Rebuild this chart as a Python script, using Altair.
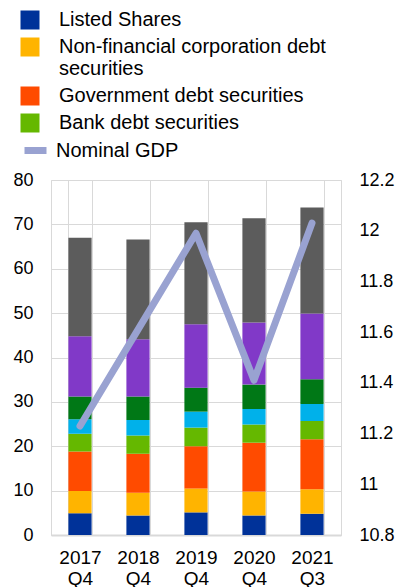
import altair as alt
import pandas as pd

periods = ["2017 Q4", "2018 Q4", "2019 Q4", "2020 Q4", "2021 Q3"]

series_names = [
    "Listed Shares",
    "Non-financial corporation debt securities",
    "Government debt securities",
    "Bank debt securities",
    "Other financial debt securities",
    "Investment fund shares",
    "Unlisted shares",
    "Other equity",
]
legend_names = series_names[:4]
series_colors = ["#003299", "#FFB400", "#FF4B00", "#65B800",
                 "#00B1EA", "#007816", "#8139C8", "#5C5C5C"]

listed_shares = [4.9, 4.4, 5.1, 4.4, 4.8]
nfc_debt = [5.0, 5.1, 5.4, 5.4, 5.5]
gov_debt = [8.9, 8.8, 9.5, 11.0, 11.3]
bank_debt = [4.0, 4.1, 4.2, 4.1, 4.1]
other_fin_debt = [3.3, 3.5, 3.6, 3.5, 3.8]
fund_shares = [5.1, 5.3, 5.4, 5.5, 5.6]
unlisted_shares = [13.6, 12.9, 14.3, 14.0, 14.8]
other_equity = [22.2, 22.5, 23.0, 23.5, 23.9]

nominal_gdp = [11.23, 11.61, 11.99, 11.41, 12.03]

all_series = [listed_shares, nfc_debt, gov_debt, bank_debt,
              other_fin_debt, fund_shares, unlisted_shares, other_equity]

rows = []
for i, (name, vals) in enumerate(zip(series_names, all_series)):
    for p, v in zip(periods, vals):
        rows.append({"period": p, "series": name, "value": v, "order": i})
bars_df = pd.DataFrame(rows)

gdp_df = pd.DataFrame({"period": periods, "gdp": nominal_gdp,
                       "series": ["Nominal GDP"] * len(periods)})

FONT = "Liberation Sans"
GRID = "#d9d9d9"

x_enc = alt.X(
    "period:N", sort=periods,
    scale=alt.Scale(paddingInner=0.6, paddingOuter=0.3),
    axis=alt.Axis(title=None, labelExpr="split(datum.label, ' ')", labelAngle=0,
                  tickBand="extent", grid=True, gridColor=GRID, ticks=False,
                  labelPadding=13, labelLineHeight=21, labelFontSize=19,
                  labelFont=FONT, labelColor="#000000",
                  domainColor=GRID, domainWidth=2),
)

bars = alt.Chart(bars_df).mark_bar().encode(
    x=x_enc,
    y=alt.Y("value:Q", stack="zero",
            scale=alt.Scale(domain=[0, 80]),
            axis=alt.Axis(title=None, values=list(range(0, 81, 10)), grid=True,
                          gridColor=GRID, ticks=False, domain=False,
                          labelPadding=18, labelFontSize=18, labelFont=FONT,
                          labelColor="#000000")),
    color=alt.Color("series:N",
                    scale=alt.Scale(domain=series_names, range=series_colors),
                    legend=alt.Legend(values=legend_names, title=None, orient="none",
                                      legendX=-31, legendY=-170, padding=0,
                                      symbolType="square", symbolSize=361,
                                      symbolStrokeWidth=0, labelFontSize=20,
                                      labelFont=FONT, labelColor="#000000",
                                      labelOffset=19, rowPadding=7,
                                      labelLimit=400,
                                      labelExpr="datum.label == 'Non-financial corporation debt securities' ? ['Non-financial corporation debt', 'securities'] : datum.label")),
    order=alt.Order("order:Q", sort="ascending"),
)

line = alt.Chart(gdp_df).mark_line(strokeWidth=7, strokeCap="round",
                                   strokeJoin="round").encode(
    x=x_enc,
    y=alt.Y("gdp:Q", scale=alt.Scale(domain=[10.8, 12.2], zero=False),
            axis=alt.Axis(title=None, orient="right", grid=False, ticks=False,
                          domain=False, format="~g",
                          values=[10.8, 11.0, 11.2, 11.4, 11.6, 11.8, 12.0, 12.2],
                          labelPadding=18, labelFontSize=18, labelFont=FONT,
                          labelColor="#000000")),
    stroke=alt.Stroke("series:N",
                      scale=alt.Scale(domain=["Nominal GDP"], range=["#99A2D1"]),
                      legend=alt.Legend(title=None, orient="none", legendX=-30,
                                        legendY=-44, padding=0, symbolType="stroke",
                                        symbolSize=484, symbolStrokeWidth=7,
                                        labelFontSize=20, labelFont=FONT,
                                        labelColor="#000000", labelOffset=6)),
)

chart = alt.layer(bars, line).resolve_scale(y="independent").properties(
    width=290, height=355,
    padding={"left": 4, "top": 2, "right": 0, "bottom": 0},
).configure_view(stroke=GRID, strokeWidth=1)

chart.save("out.html", embed_options={"renderer": "svg", "actions": False})
